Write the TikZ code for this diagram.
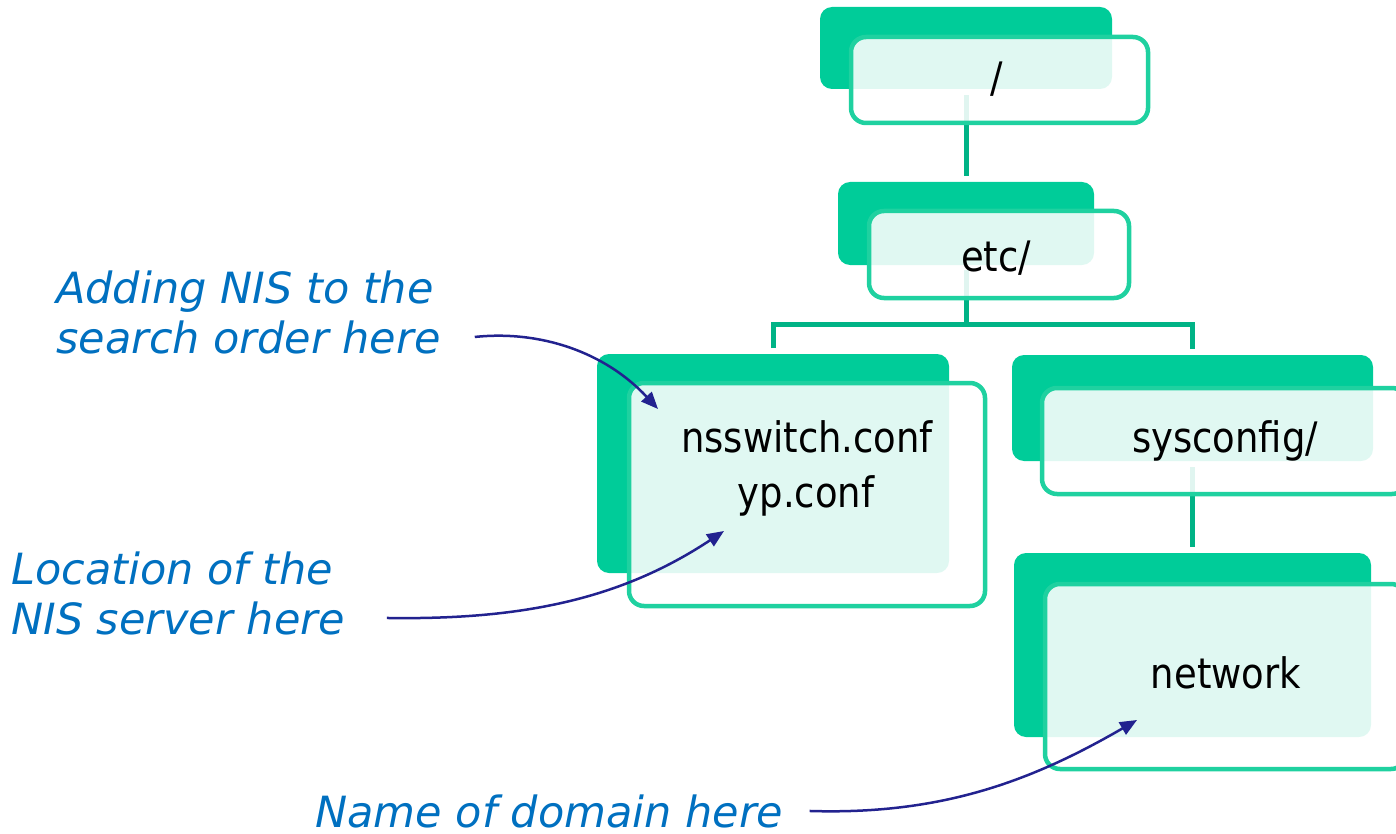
\documentclass[tikz,border=0pt]{standalone}
\usepackage{fontspec}
\newfontfamily\boxfont{DejaVu Sans}[FakeStretch=0.88]
\newfontfamily\notefont{DejaVu Sans}
\usetikzlibrary{arrows.meta}
\definecolor{backgreen}{HTML}{00CC99}
\definecolor{outgreen}{HTML}{1FD1A0}
\definecolor{conngreen}{HTML}{00B386}
\definecolor{noteblue}{HTML}{0070C0}
\definecolor{navy}{HTML}{22228F}
\begin{document}
\begin{tikzpicture}[x=1pt,y=-1pt,
  back/.style={rectangle, fill=backgreen, rounded corners=12pt, inner sep=0pt, outer sep=0pt},
  front/.style={rectangle, draw=outgreen, line width=4.5pt, fill=white, fill opacity=0.88, rounded corners=15pt, inner sep=0pt, outer sep=0pt},
  conn/.style={draw=conngreen, line width=5pt},
  boxtext/.style={font=\boxfont\fontsize{42}{50}\selectfont, text=black, inner sep=0pt, anchor=base},
  note/.style={font=\notefont\itshape\fontsize{43}{50}\selectfont, text=noteblue, inner sep=0pt, anchor=base west},
  pointer/.style={draw=navy, line width=2.5pt, -{Triangle[length=17pt,width=14pt]}}]
\clip (0,0) rectangle (1396,834);

% back (solid) boxes
\node[back, minimum width=292pt, minimum height=82pt]  (rootB) at (966,48) {};
\node[back, minimum width=256pt, minimum height=83pt]  (etcB)  at (966,223.5) {};
\node[back, minimum width=352pt, minimum height=219pt] (nssB)  at (773,463.5) {};
\node[back, minimum width=361pt, minimum height=106pt] (sysB)  at (1192.5,408) {};
\node[back, minimum width=357pt, minimum height=184pt] (netB)  at (1192.5,645) {};

% connectors
\coordinate (bus) at (966,324);
\draw[conn] ([yshift=-6pt]rootB.south) -- ([yshift=6pt]etcB.north);
\draw[conn] ([yshift=-5pt]etcB.south) -- (bus);
\draw[conn] ([yshift=6pt]nssB.north) |- (bus) -| ([yshift=6pt]sysB.north);
\draw[conn] ([yshift=-6pt]sysB.south) -- ([yshift=6pt]netB.north);

% front (outlined) boxes
\node[front, minimum width=297pt, minimum height=86pt]  (rootF) at (999.5,80) {};
\node[front, minimum width=260pt, minimum height=87pt]  (etcF)  at (999,254.5) {};
\node[front, minimum width=356pt, minimum height=223pt] (nssF)  at (807,494.5) {};
\node[front, minimum width=365pt, minimum height=106pt] (sysF)  at (1224.5,441) {};
\node[front, minimum width=361pt, minimum height=185pt] (netF)  at (1225.5,676.5) {};

% box texts
\node[boxtext] (rootT) at (997,93) {/};
\node[boxtext] (etcT)  at (996,271) {etc/};
\node[boxtext] (nssT1) at (807,452) {nsswitch.conf};
\node[boxtext] (nssT2) at (806,507) {yp.conf};
\node[boxtext] (sysT)  at (1225,452) {sysconfig/};
\node[boxtext] (netT)  at (1226,688) {network};

% notes
\node[note] (add1) at (56,303) {Adding NIS to the};
\node[note] (add2) at (56,353) {search order here};
\node[note] (loc1) at (11,584) {Location of the};
\node[note] (loc2) at (11,634) {NIS server here};
\node[note] (dom)  at (315,827) {Name of domain here};

% arrow targets
\coordinate (nssTip) at (658,409);
\coordinate (ypTip)  at (724,531);
\coordinate (netTip) at (1137,720);

% pointers
\draw[pointer] ([xshift=34pt]add2.east) .. controls (540,330) and (605,352) .. (nssTip);
\draw[pointer] ([xshift=42pt]loc2.east) .. controls (520,620) and (620,600) .. (ypTip);
\draw[pointer] ([xshift=26pt]dom.east) .. controls (940,815) and (1030,782) .. (netTip);
\end{tikzpicture}
\end{document}
